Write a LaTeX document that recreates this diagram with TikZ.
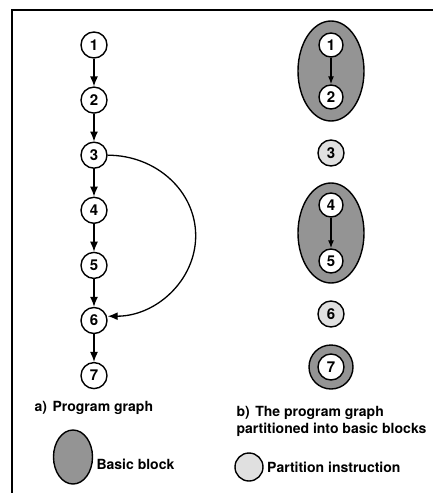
\documentclass[tikz,border=0pt]{standalone}
\usepackage{fontspec}
\setmainfont{TeX Gyre Heros}
\usetikzlibrary{positioning,shapes.geometric,arrows.meta}

\begin{document}
\begin{tikzpicture}[x=1pt,y=-1pt,font=\fontsize{14}{17}\selectfont\bfseries] % y grows down
\tikzstyle{inst} = [circle, draw, line width=1.4pt, fill=white, minimum size=26pt, inner sep=0pt, font=\fontsize{15}{17}\selectfont\bfseries] % instruction node
\tikzstyle{part} = [inst, fill=black!12] % partition instruction
\tikzstyle{block} = [ellipse, draw, line width=1.4pt, fill=black!42, inner sep=0pt] % basic block
\tikzstyle{flow} = [line width=1.3pt, -{Latex[length=10pt,width=8pt]}] % control flow
\useasboundingbox (0,0) rectangle (433,493);
\draw[line width=2.5pt] (12,493) -- (12,10) -- (433,10); % frame
% a) program graph
\node[inst] (a1) at (94,45) {1};
\node[inst, below=27.7pt of a1] (a2) {2};
\node[inst, below=27.7pt of a2] (a3) {3};
\node[inst, below=27.7pt of a3] (a4) {4};
\node[inst, below=27.7pt of a4] (a5) {5};
\node[inst, below=27.7pt of a5] (a6) {6};
\node[inst, below=27.7pt of a6] (a7) {7};
\foreach \i/\j in {1/2,2/3,3/4,4/5,5/6,6/7}
    \draw[flow] (a\i) -- (a\j);
\draw[flow] (a3.east) arc[start angle=-90, end angle=90, x radius=88, y radius=80.5]; % back to 6
\node[anchor=west] (capa) at (31,408) {a)\hspace{0.4em}Program graph};
% b) partitioned into basic blocks
\node[block, minimum width=66pt, minimum height=100pt] (blk12) at (331,71) {};
\node[block, minimum width=66pt, minimum height=100pt] (blk45) at (331,233) {};
\node[block, circle, minimum size=44pt] (blk7) at (331,367) {};
\node[inst, minimum size=24pt] (b1) at (331,45) {1};
\node[inst, minimum size=24pt] (b2) at (331,97) {2};
\node[part] (b3) at (331,153) {3};
\node[inst, minimum size=24pt] (b4) at (331,205) {4};
\node[inst, minimum size=24pt] (b5) at (331,261) {5};
\node[part] (b6) at (331,314) {6};
\node[inst] (b7) at (331,367) {7};
\draw[flow, -{Latex[length=8pt,width=6pt]}] (b1) -- (b2);
\draw[flow, -{Latex[length=8pt,width=6pt]}] (b4) -- (b5);
\node[anchor=north west, align=left] (capb) at (233,403) {b)\hspace{0.4em}The program graph\\partitioned into basic blocks};
% legend
\node[block, minimum width=39pt, minimum height=54pt] (keyblk) at (73,457) {};
\node[anchor=west] (keyblktxt) at (93,464) {Basic block};
\node[part, minimum size=28pt] (keypart) at (249,467) {};
\node[right=0pt of keypart] (keyparttxt) {Partition instruction};
\end{tikzpicture}
\end{document}
